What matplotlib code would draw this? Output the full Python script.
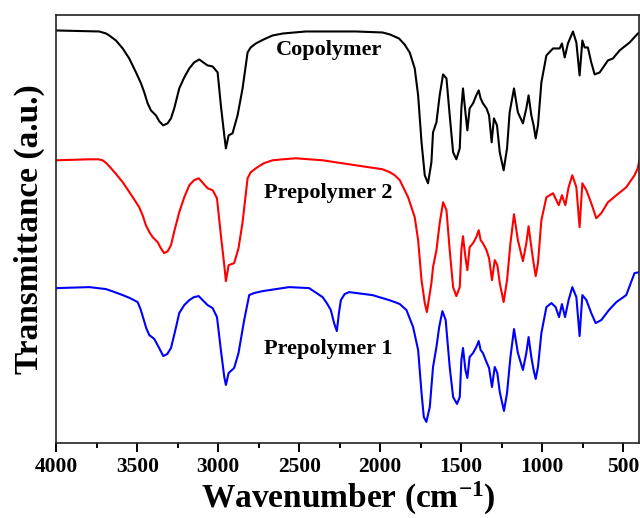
import matplotlib
matplotlib.use("Agg")
import matplotlib.pyplot as plt
from matplotlib.ticker import MultipleLocator

plt.rcParams['font.family'] = ['Liberation Serif', 'DejaVu Serif']
plt.rcParams['font.weight'] = 'bold'
plt.rcParams['mathtext.fontset'] = 'custom'
plt.rcParams['mathtext.rm'] = 'Liberation Serif:bold'
plt.rcParams['mathtext.it'] = 'Liberation Serif:bold'
plt.rcParams['mathtext.bf'] = 'Liberation Serif:bold'

# FTIR spectra (transmittance in arbitrary, offset units)
copolymer_wn = [4000, 3735, 3693, 3673, 3632, 3590, 3550, 3508, 3477, 3457, 3436, 3416, 3385,
                3364, 3340, 3313, 3292, 3272, 3241, 3210, 3179, 3149, 3118, 3066, 3035, 3004,
                2984, 2963, 2953, 2936, 2912, 2881, 2850, 2819, 2800, 2768, 2720, 2665, 2600,
                2459, 2151, 1986, 1940, 1884, 1850, 1818, 1787, 1766, 1745, 1725, 1705, 1684,
                1674, 1653, 1633, 1612, 1591, 1571, 1550, 1530, 1509, 1499, 1489, 1474, 1462,
                1448, 1427, 1407, 1392, 1380, 1366, 1344, 1328, 1312, 1298, 1279, 1262, 1238,
                1217, 1201, 1174, 1150, 1119, 1098, 1084, 1067, 1053, 1040, 1026, 1005, 974,
                933, 892, 878, 861, 841, 810, 789, 769, 752, 738, 718, 697, 676, 645, 594, 563,
                522, 460, 409, 400]
copolymer_t = [418, 417, 415, 413, 408, 400, 390, 376, 365, 356, 345, 338, 333,
               327, 323, 325, 330, 340, 360, 371, 380, 386, 389, 383, 382, 376,
               343, 313, 300, 313, 315, 333, 360, 396, 401, 405, 409, 413, 415,
               417, 417, 416, 414, 410, 404, 396, 380, 353, 306, 273, 265, 286,
               316, 326, 353, 374, 370, 333, 296, 289, 300, 340, 360, 336, 318,
               340, 345, 353, 358, 350, 345, 340, 333, 306, 330, 323, 296, 278,
               300, 336, 360, 336, 325, 340, 353, 333, 323, 310, 323, 366, 393,
               400, 400, 405, 391, 405, 417, 406, 373, 408, 401, 401, 386, 374, 376, 388, 390,
               398, 406, 415, 416]

prepolymer2_wn = [4000, 3796, 3740, 3714, 3690, 3662, 3630, 3590, 3540, 3488, 3465, 3447, 3425,
                  3405, 3374, 3355, 3334, 3312, 3292, 3270, 3241, 3210, 3179, 3150, 3121, 3066,
                  3035, 3008, 2984, 2963, 2953, 2936, 2902, 2875, 2850, 2819, 2800, 2768, 2720,
                  2665, 2600, 2521, 2356, 2151, 1986, 1940, 1910, 1879, 1828, 1787, 1766, 1745,
                  1725, 1712, 1684, 1674, 1653, 1633, 1612, 1591, 1571, 1550, 1530, 1509, 1499,
                  1489, 1474, 1462, 1448, 1427, 1407, 1392, 1380, 1366, 1344, 1328, 1310, 1293,
                  1277, 1262, 1238, 1217, 1196, 1174, 1150, 1119, 1098, 1084, 1067, 1053, 1040,
                  1026, 1005, 974, 933, 898, 878, 857, 837, 814, 789, 769, 752, 727, 697, 666,
                  635, 594, 542, 481, 430, 410, 400]
prepolymer2_t = [288, 289, 289, 288, 285, 280, 274, 266, 254, 241, 232, 223, 216,
                 211, 206, 200, 195, 197, 203, 218, 236, 251, 263, 268, 270, 260,
                 258, 250, 213, 183, 167, 183, 185, 200, 226, 270, 276, 280, 285,
                 288, 289, 290, 288, 283, 279, 276, 273, 268, 251, 231, 208, 168,
                 145, 136, 165, 181, 198, 225, 246, 238, 198, 161, 152, 161, 198,
                 212, 191, 178, 201, 205, 211, 218, 208, 205, 198, 190, 168, 188,
                 183, 165, 146, 168, 205, 234, 208, 187, 205, 222, 201, 185, 172,
                 185, 228, 251, 255, 243, 253, 243, 261, 273, 261, 221, 265, 258, 245, 230,
                 235, 246, 253, 261, 273, 280, 288]

prepolymer1_wn = [4000, 3796, 3693, 3640, 3590, 3545, 3498, 3480, 3465, 3445, 3426, 3410, 3395,
                  3365, 3340, 3315, 3292, 3265, 3241, 3210, 3179, 3150, 3121, 3066, 3035, 3008,
                  2984, 2963, 2953, 2936, 2902, 2875, 2840, 2809, 2780, 2726, 2562, 2439, 2356,
                  2330, 2305, 2285, 2268, 2255, 2243, 2220, 2192, 2048, 1945, 1910, 1879, 1838,
                  1797, 1766, 1745, 1731, 1715, 1694, 1674, 1653, 1636, 1616, 1596, 1571, 1550,
                  1526, 1509, 1499, 1489, 1474, 1462, 1448, 1427, 1407, 1392, 1380, 1366, 1344,
                  1328, 1310, 1293, 1277, 1262, 1236, 1217, 1196, 1174, 1150, 1119, 1098, 1084,
                  1067, 1053, 1040, 1026, 1005, 974, 943, 917, 896, 878, 859, 837, 814, 789, 769,
                  752, 727, 697, 670, 635, 588, 542, 481, 430, 400]
prepolymer1_t = [160, 161, 159, 156, 153, 150, 146, 139, 131, 120, 113, 111, 109,
                 100, 92, 94, 100, 118, 135, 143, 148, 151, 152, 143, 140, 131,
                 98, 71, 63, 75, 80, 95, 128, 153, 155, 157, 161, 160, 151,
                 145, 138, 125, 117, 135, 148, 154, 156, 153, 148, 146, 144, 138,
                 121, 98, 55, 31, 26, 41, 81, 101, 121, 137, 128, 81, 51,
                 44, 51, 88, 100, 78, 70, 91, 95, 101, 107, 98, 95, 86,
                 80, 61, 81, 75, 56, 37, 55, 91, 119, 95, 78, 95, 111,
                 91, 78, 69, 81, 115, 141, 145, 141, 131, 144, 131, 148, 161, 151, 112,
                 153, 148, 135, 125, 128, 138, 146, 153, 175, 176]

curve_labels = ['Copolymer', 'Prepolymer 2', 'Prepolymer 1']
label_pos = [(2317, 398), (2320, 255), (2320, 99)]

fig = plt.figure(figsize=(6.4, 5.18), dpi=100)
ax = fig.add_axes([0.088, 0.145, 0.911, 0.827])

ax.plot(copolymer_wn, copolymer_t, color='black', lw=1.5)
ax.plot(prepolymer2_wn, prepolymer2_t, color='#ff0000', lw=1.5)
ax.plot(prepolymer1_wn, prepolymer1_t, color='#0000ff', lw=1.5)

for lab, (x, y) in zip(curve_labels, label_pos):
    ax.text(x, y, lab, ha='center', va='center', fontsize=16, fontweight='bold')

ax.set_xlim(4000, 400)
ax.set_ylim(5, 434)
ax.xaxis.set_major_locator(MultipleLocator(500))
ax.xaxis.set_minor_locator(MultipleLocator(250))
ax.tick_params(axis='x', which='major', direction='out', length=6.5, width=1.4, labelsize=15.5)
ax.tick_params(axis='x', which='minor', direction='out', length=3.6, width=1.4)
ax.set_yticks([])
for s in ax.spines.values():
    s.set_linewidth(1.2)
    s.set_color('#222222')

ax.set_xlabel('Wavenumber (cm$^{-1}$)', fontsize=24, fontweight='bold', labelpad=2)
ax.set_ylabel('Transmittance (a.u.)', fontsize=24, fontweight='bold', labelpad=8)

fig.savefig('out.png', dpi=100)
